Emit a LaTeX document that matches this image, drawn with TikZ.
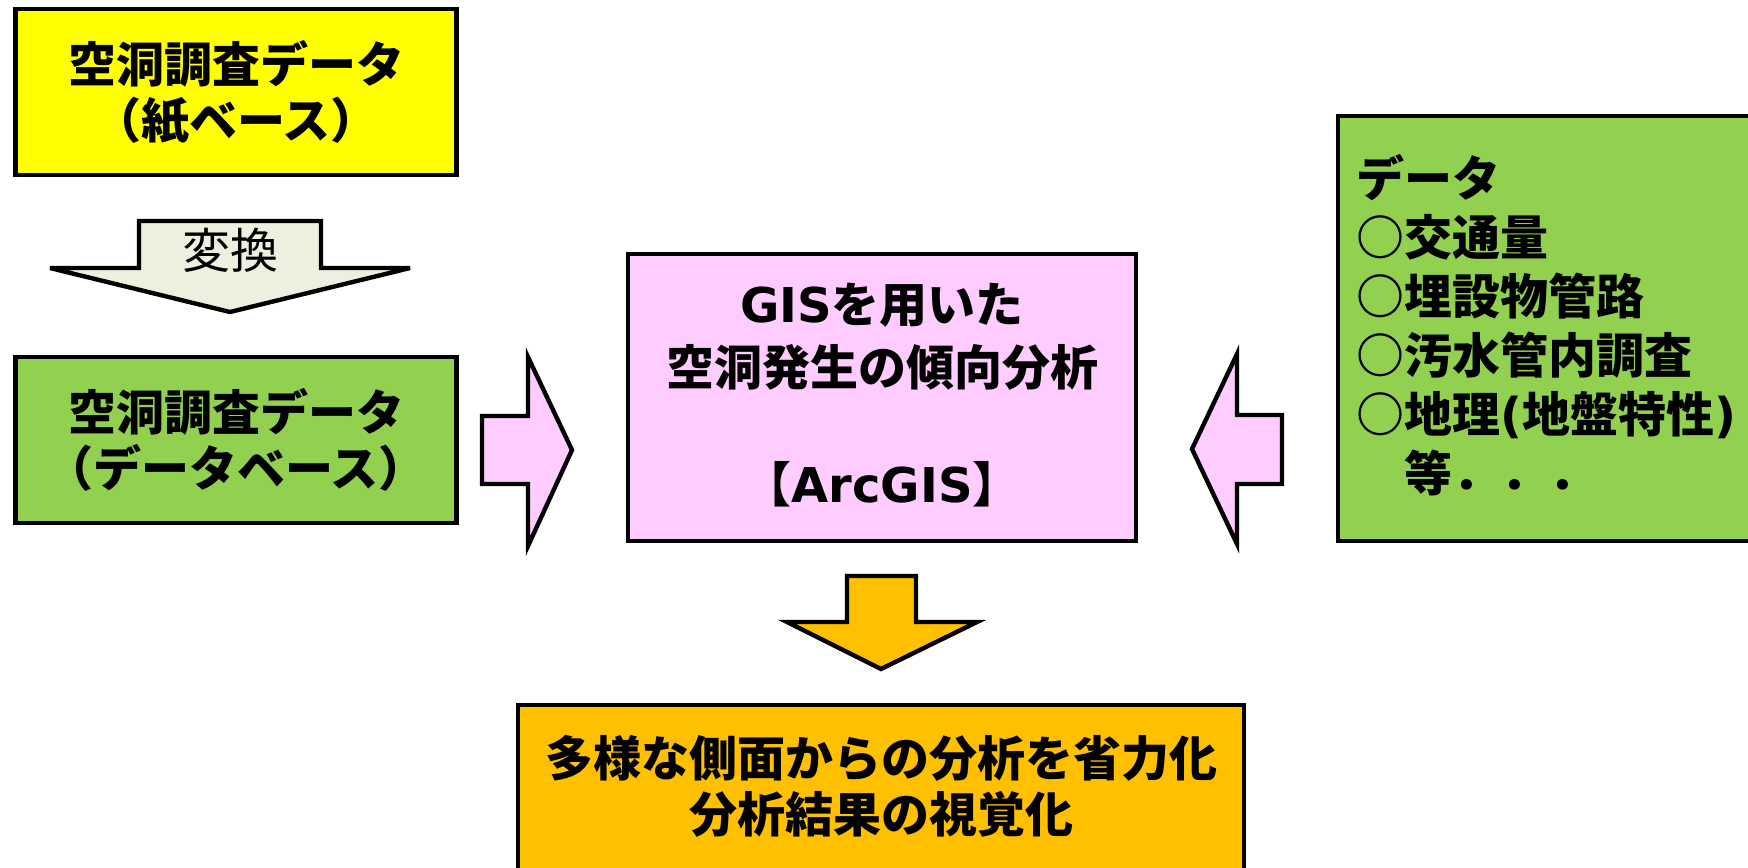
\documentclass[tikz,border=0pt]{standalone}
\usepackage{fontspec}
\setmainfont{Noto Sans CJK JP}
\newfontfamily\lat{DejaVu Sans}
\definecolor{cyellow}{HTML}{FFFF00}
\definecolor{cgreen}{HTML}{92D050}
\definecolor{cpink}{HTML}{FFCCFF}
\definecolor{corange}{HTML}{FFC000}
\definecolor{cpale}{HTML}{EBF1DE}
\begin{document}
\begin{tikzpicture}[x=0.5pt,y=-0.5pt,line width=2.2pt,line join=miter,miter limit=5,
  box/.style={draw=black,line width=2.2pt,inner sep=0pt},
  txt/.style={font=\bfseries\fontsize{24}{28}\selectfont,align=center,inner sep=0pt},
  blockarrow/.style={draw=black,line width=2.2pt}]
\useasboundingbox (0,0) rectangle (1748,867);
% boxes
\node[box,fill=cyellow,minimum width=220.5pt,minimum height=83pt] (paper) at (236,92) {};
\node[txt] (papertxt) at (paper.center) {空洞調査データ\\（紙ベース）};
\node[box,fill=cgreen,minimum width=220.5pt,minimum height=83pt] (db) at (236,440) {};
\node[txt] (dbtxt) at (db.center) {空洞調査データ\\（データベース）};
\node[box,fill=cpink,minimum width=254pt,minimum height=143.5pt] (gis) at (882,397.5) {};
\node[txt,font=\bfseries\fontsize{24}{31.5}\selectfont] (gistxt) at (882,337) {{\lat\bfseries GIS}を用いた\\空洞発生の傾向分析};
\node[txt] (arctxt) at (882,484) {【{\lat\bfseries ArcGIS}】};
\node[box,fill=cgreen,minimum width=231pt,minimum height=212.5pt] (data) at (1569,328.5) {};
\node[txt,align=left,anchor=north west,font=\bfseries\fontsize{24}{29.5}\selectfont] (datatxt) at (1354,152)
  {データ\\○交通量\\○埋設物管路\\○汚水管内調査\\○地理{\lat\bfseries (}地盤特性{\lat\bfseries )}\\　等．．．};
\node[box,fill=corange,minimum width=363pt,minimum height=100pt] (result) at (881,805) {};
\node[txt] (resulttxt) at (881,786) {多様な側面からの分析を省力化\\分析結果の視覚化};
% block arrows
\draw[blockarrow,fill=cpale] (139,221) -- (321,221) -- (321,268) -- (410,268) -- (230,312) -- (50,268) -- (139,268) -- cycle;
\node[inner sep=0pt,font=\fontsize{24}{28}\selectfont] (conv) at (230,250) {変換};
\draw[blockarrow,fill=cpink] (482,416) -- (528,416) -- (528,357) -- (572,450) -- (528,546) -- (528,484) -- (482,484) -- cycle;
\draw[blockarrow,fill=cpink] (1282,415) -- (1237,415) -- (1237,354) -- (1192,449) -- (1237,544) -- (1237,484) -- (1282,484) -- cycle;
\draw[blockarrow,fill=corange] (847,576) -- (916,576) -- (916,622) -- (977,622) -- (881,669) -- (787,622) -- (847,622) -- cycle;
\end{tikzpicture}
\end{document}
